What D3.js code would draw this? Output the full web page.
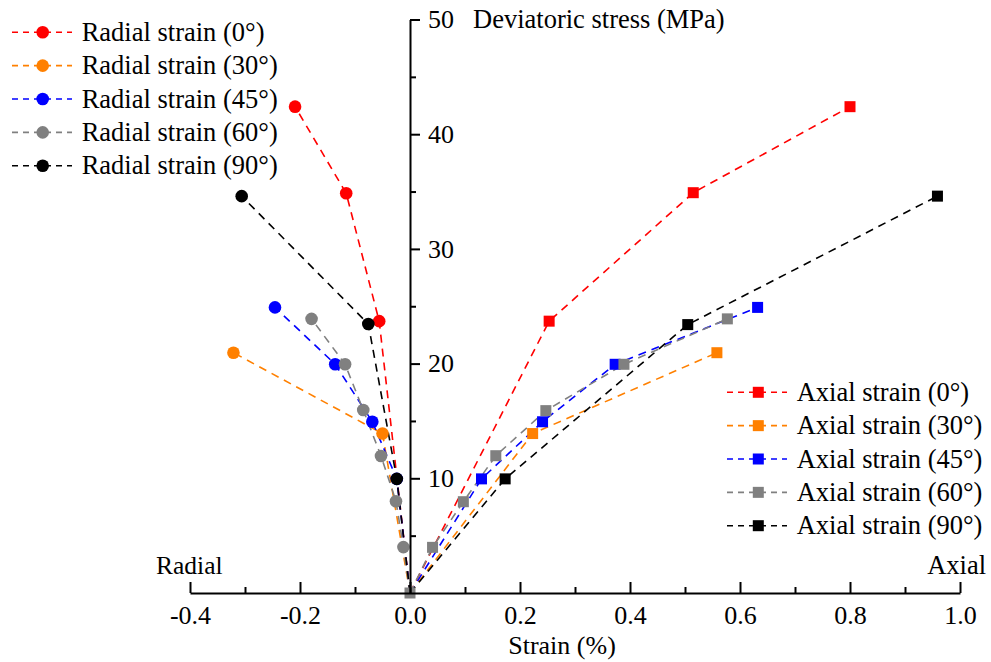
<!DOCTYPE html>
<html>
<head>
<meta charset="utf-8">
<script src="https://cdn.jsdelivr.net/npm/d3@7"></script>
<style>
  html, body { margin: 0; padding: 0; background: #fff; }
  svg text { font-family: "Liberation Serif", "Times New Roman", serif; fill: #000; }
</style>
</head>
<body>
<svg id="chart" width="991" height="662"></svg>
<script>
// ---------- data ----------
const angles = ["0°", "30°", "45°", "60°", "90°"];
const colors = ["#ff0000", "#ff8000", "#0000ff", "#808080", "#000000"];

// radial strain (negative x), deviatoric stress (MPa)
const radial0  = [[0, 0], [-0.056, 23.7], [-0.116, 34.85], [-0.209, 42.4]];
const radial30 = [[0, 0], [-0.050, 13.9], [-0.321, 20.95]];
const radial45 = [[0, 0], [-0.024, 9.95], [-0.0685, 14.93], [-0.136, 19.94], [-0.2455, 24.9]];
const radial60 = [[0, 0], [-0.012, 4.0], [-0.0255, 8.0], [-0.0527, 11.95], [-0.085, 15.95], [-0.118, 19.94], [-0.179, 23.9]];
const radial90 = [[0, 0], [-0.024, 9.95], [-0.0758, 23.45], [-0.306, 34.6]];

// axial strain (positive x)
const axial0  = [[0, 0], [0.253, 23.7], [0.515, 34.9], [0.80, 42.4]];
const axial30 = [[0, 0], [0.223, 13.9], [0.558, 20.95]];
const axial45 = [[0, 0], [0.130, 9.95], [0.241, 14.93], [0.373, 19.94], [0.632, 24.9]];
const axial60 = [[0, 0], [0.041, 3.98], [0.097, 7.96], [0.156, 11.97], [0.247, 15.9], [0.389, 19.94], [0.577, 23.9]];
const axial90 = [[0, 0], [0.173, 9.95], [0.505, 23.4], [0.959, 34.6]];

const radialSeries = [radial0, radial30, radial45, radial60, radial90];
const axialSeries  = [axial0, axial30, axial45, axial90, axial60];
const axialColorIdx = [0, 1, 2, 4, 3];

const xTicks = [-0.4, -0.2, 0.0, 0.2, 0.4, 0.6, 0.8, 1.0];
const xMinorTicks = [-0.3, -0.1, 0.1, 0.3, 0.5, 0.7, 0.9];
const yTicks = [10, 20, 30, 40, 50];
const yMinorTicks = [5, 15, 25, 35, 45];

// ---------- layout ----------
const svg = d3.select("#chart");
const x = d3.scaleLinear().domain([-0.4, 1.0]).range([190, 960]);
const y = d3.scaleLinear().domain([0, 50]).range([593, 19.5]);
const FS = 26;
const FL = 26.5;
const dash = "8,6";

const line = d3.line().x(d => x(d[0])).y(d => y(d[1]));

const gSeries = svg.append("g");

// axial lines
axialSeries.forEach((s, i) => {
  const c = colors[axialColorIdx[i]];
  gSeries.append("path").datum(s).attr("d", line)
    .attr("fill", "none").attr("stroke", c).attr("stroke-width", 1.6)
    .attr("stroke-dasharray", dash);
});
// radial lines
radialSeries.forEach((s, i) => {
  gSeries.append("path").datum(s).attr("d", line)
    .attr("fill", "none").attr("stroke", colors[i]).attr("stroke-width", 1.6)
    .attr("stroke-dasharray", dash);
});
// radial circles
radialSeries.forEach((s, i) => {
  gSeries.selectAll(null).data(s.filter(d => d[1] > 0)).enter().append("circle")
    .attr("cx", d => x(d[0])).attr("cy", d => y(d[1])).attr("r", 6.3)
    .attr("fill", colors[i]);
});
// axial squares
axialSeries.forEach((s, i) => {
  const c = colors[axialColorIdx[i]];
  const pts = axialColorIdx[i] === 3 ? s : s.filter(d => d[1] > 0);
  gSeries.selectAll(null).data(pts).enter().append("rect")
    .attr("x", d => x(d[0]) - 5.5).attr("y", d => y(d[1]) - 5.5)
    .attr("width", 11).attr("height", 11).attr("fill", c);
});

// ---------- axes ----------
const xAxis = d3.axisBottom(x).tickValues(xTicks).tickFormat(d3.format(".1f"))
  .tickSizeInner(-11).tickSizeOuter(0).tickPadding(13);
const gx = svg.append("g").attr("transform", `translate(0,${y(0)})`).call(xAxis);
gx.select(".domain").attr("stroke-width", 2);
gx.selectAll(".tick line").attr("stroke-width", 2);
gx.selectAll(".tick text").attr("font-size", FS).attr("font-family", "Liberation Serif")
  .text(d => d3.format(".1f")(d).replace("−", "-"));

const xMinor = d3.axisBottom(x).tickValues(xMinorTicks).tickFormat("")
  .tickSizeInner(-6).tickSizeOuter(0);
const gxm = svg.append("g").attr("transform", `translate(0,${y(0)})`).call(xMinor);
gxm.select(".domain").remove();
gxm.selectAll(".tick line").attr("stroke-width", 2);

const yAxis = d3.axisRight(y).tickValues(yTicks).tickFormat(d3.format("d"))
  .tickSizeInner(10).tickSizeOuter(0).tickPadding(8);
const gy = svg.append("g").attr("transform", `translate(${x(0)},0)`).call(yAxis);
gy.select(".domain").attr("stroke-width", 2);
gy.selectAll(".tick line").attr("stroke-width", 2);
gy.selectAll(".tick text").attr("font-size", FS).attr("font-family", "Liberation Serif");

const yMinor = d3.axisRight(y).tickValues(yMinorTicks).tickFormat("")
  .tickSizeInner(6).tickSizeOuter(0);
const gym = svg.append("g").attr("transform", `translate(${x(0)},0)`).call(yMinor);
gym.select(".domain").remove();
gym.selectAll(".tick line").attr("stroke-width", 2);

// axis titles
svg.append("text").attr("x", 473).attr("y", 28).attr("font-size", FL)
  .text("Deviatoric stress (MPa)");
svg.append("text").attr("x", 562).attr("y", 654).attr("font-size", FS)
  .attr("text-anchor", "middle").text("Strain (%)");
svg.append("text").attr("x", 156).attr("y", 574).attr("font-size", 25.5).text("Radial");
svg.append("text").attr("x", 986).attr("y", 574).attr("font-size", 26.5)
  .attr("text-anchor", "end").text("Axial");

// ---------- legends ----------
const legStep = 33.35;
angles.forEach((a, i) => {
  const cy = 32.3 + i * legStep;
  svg.append("line").attr("x1", 12).attr("x2", 72).attr("y1", cy).attr("y2", cy)
    .attr("stroke", colors[i]).attr("stroke-width", 1.6).attr("stroke-dasharray", "6,5");
  svg.append("circle").attr("cx", 42.7).attr("cy", cy).attr("r", 6.3).attr("fill", colors[i]);
  svg.append("text").attr("x", 81.7).attr("y", cy + 8.5).attr("font-size", FL)
    .text(`Radial strain (${a})`);
});
angles.forEach((a, i) => {
  const cy = 392.3 + i * legStep;
  svg.append("line").attr("x1", 727).attr("x2", 787).attr("y1", cy).attr("y2", cy)
    .attr("stroke", colors[i]).attr("stroke-width", 1.6).attr("stroke-dasharray", "6,5");
  svg.append("rect").attr("x", 758.3 - 5.5).attr("y", cy - 5.5).attr("width", 11).attr("height", 11)
    .attr("fill", colors[i]);
  svg.append("text").attr("x", 796.7).attr("y", cy + 8.5).attr("font-size", FL)
    .text(`Axial strain (${a})`);
});
</script>
</body>
</html>
